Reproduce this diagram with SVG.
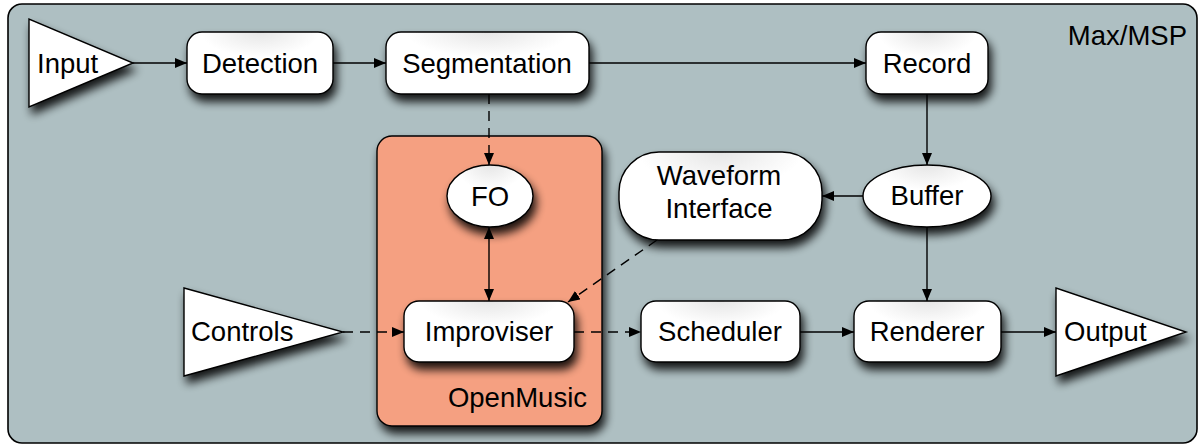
<svg xmlns="http://www.w3.org/2000/svg" width="1200" height="444" viewBox="0 0 1200 444">
  <style>
    .lbl { font-family: "Liberation Sans", Arial, Helvetica, sans-serif; font-size: 27.5px; fill: #000; }
    .mid { text-anchor: middle; }
    .node { fill: url(#nodeFill); stroke: #000; stroke-width: 1.4; filter: url(#shadow); }
    .tri { fill: #fff; stroke: #000; stroke-width: 1.4; filter: url(#shadow); }
    .edge { fill: none; stroke: #000; stroke-width: 1.4; }
    .dash { stroke-dasharray: 10 7; }
  </style>
  <defs>
    <filter id="shadow" x="-30%" y="-30%" width="160%" height="180%">
      <feGaussianBlur in="SourceAlpha" stdDeviation="5"/>
      <feOffset dx="3" dy="7" result="blur"/>
      <feComponentTransfer><feFuncA type="linear" slope="0.88"/></feComponentTransfer>
      <feMerge><feMergeNode/><feMergeNode in="SourceGraphic"/></feMerge>
    </filter>
    <radialGradient id="nodeFill" cx="0.5" cy="0" r="0.9">
      <stop offset="0" stop-color="#e6e6e6"/>
      <stop offset="0.45" stop-color="#ffffff"/>
      <stop offset="1" stop-color="#ffffff"/>
    </radialGradient>
    <marker id="arr" viewBox="0 0 12 10" refX="12" refY="5" markerWidth="12" markerHeight="10" markerUnits="userSpaceOnUse" orient="auto-start-reverse">
      <path d="M0,0 L12,5 L0,10 Z" fill="#000"/>
    </marker>
  </defs>

  <!-- Max/MSP environment frame -->
  <g id="maxmsp">
    <rect x="8" y="4" width="1189" height="439" rx="14" fill="#aebfc2" stroke="#000" stroke-width="1.6"/>
    <text class="lbl" x="1187" y="45" text-anchor="end">Max/MSP</text>
  </g>

  <!-- OpenMusic environment -->
  <g id="openmusic">
    <rect x="377" y="136" width="225" height="290" rx="15" fill="#f5a081" stroke="#000" stroke-width="1.4" filter="url(#shadow)"/>
    <text class="lbl" x="587" y="407" text-anchor="end">OpenMusic</text>
  </g>

  <!-- connectors -->
  <g id="connectors">
    <line class="edge" x1="133" y1="63" x2="187" y2="63" marker-end="url(#arr)"/>
    <line class="edge" x1="333" y1="63" x2="386" y2="63" marker-end="url(#arr)"/>
    <line class="edge" x1="589" y1="63" x2="866" y2="63" marker-end="url(#arr)"/>
    <line class="edge" x1="927" y1="94" x2="927" y2="165" marker-end="url(#arr)"/>
    <line class="edge" x1="863" y1="196" x2="822" y2="196" marker-end="url(#arr)"/>
    <line class="edge" x1="927" y1="226" x2="927" y2="301" marker-end="url(#arr)"/>
    <line class="edge dash" x1="489" y1="94" x2="489" y2="165" marker-end="url(#arr)"/>
    <line class="edge" x1="489" y1="227" x2="489" y2="301" marker-start="url(#arr)" marker-end="url(#arr)"/>
    <line class="edge dash" x1="657" y1="240" x2="568" y2="302" marker-end="url(#arr)"/>
    <line class="edge dash" x1="343" y1="332" x2="404" y2="332" marker-end="url(#arr)"/>
    <line class="edge dash" x1="574" y1="332" x2="641" y2="332" marker-end="url(#arr)"/>
    <line class="edge" x1="800" y1="332" x2="854" y2="332" marker-end="url(#arr)"/>
    <line class="edge" x1="1001" y1="332" x2="1056" y2="332" marker-end="url(#arr)"/>
  </g>

  <g id="input">
    <polygon class="tri" points="29,19 29,107 133,63"/>
    <text class="lbl" x="37" y="73">Input</text>
  </g>
  <g id="detection">
    <rect class="node" x="187" y="32" width="146" height="62" rx="15"/>
    <text class="lbl mid" x="260" y="73">Detection</text>
  </g>
  <g id="segmentation">
    <rect class="node" x="386" y="32" width="203" height="62" rx="15"/>
    <text class="lbl mid" x="487" y="73">Segmentation</text>
  </g>
  <g id="record">
    <rect class="node" x="866" y="32" width="122" height="62" rx="15"/>
    <text class="lbl mid" x="927" y="73">Record</text>
  </g>
  <g id="fo">
    <ellipse class="node" cx="490" cy="196" rx="43" ry="31"/>
    <text class="lbl mid" x="490" y="206">FO</text>
  </g>
  <g id="waveform">
    <rect class="node" x="619" y="152" width="203" height="88" rx="40"/>
    <text class="lbl mid" x="719" y="185">Waveform</text>
    <text class="lbl mid" x="719" y="218">Interface</text>
  </g>
  <g id="buffer">
    <ellipse class="node" cx="927" cy="196" rx="64" ry="31"/>
    <text class="lbl mid" x="927" y="205">Buffer</text>
  </g>
  <g id="controls">
    <polygon class="tri" points="184,288 184,376 343,332"/>
    <text class="lbl" x="191" y="341">Controls</text>
  </g>
  <g id="improviser">
    <rect class="node" x="404" y="301" width="170" height="61" rx="15"/>
    <text class="lbl mid" x="489" y="341">Improviser</text>
  </g>
  <g id="scheduler">
    <rect class="node" x="641" y="301" width="159" height="61" rx="15"/>
    <text class="lbl mid" x="720" y="341">Scheduler</text>
  </g>
  <g id="renderer">
    <rect class="node" x="854" y="301" width="147" height="61" rx="15"/>
    <text class="lbl mid" x="927" y="341">Renderer</text>
  </g>
  <g id="output">
    <polygon class="tri" points="1056,288 1056,376 1186,332"/>
    <text class="lbl" x="1064" y="341">Output</text>
  </g>
</svg>
